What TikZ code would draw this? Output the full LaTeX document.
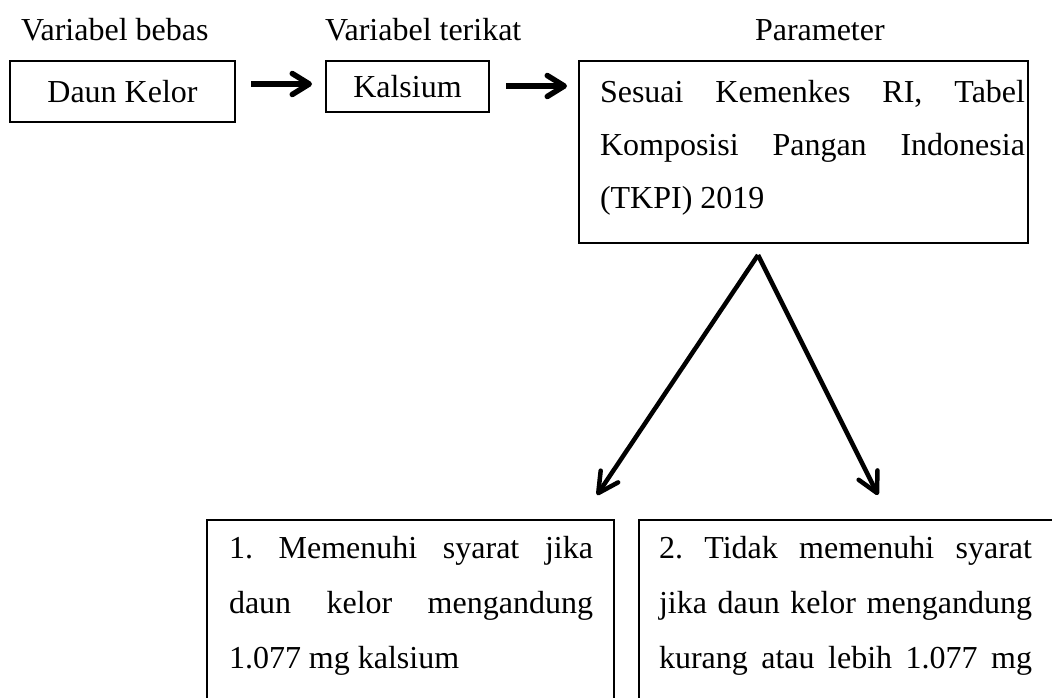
\documentclass[tikz,border=0pt]{standalone}
\usepackage{fontspec}
\setmainfont{Liberation Serif}
\usetikzlibrary{arrows.meta}
\newcommand\jline[2]{\makebox[#1][s]{#2}}
\frenchspacing
\begin{document}
\begin{tikzpicture}[x=1pt,y=-1pt,
  every node/.style={inner sep=0pt, outer sep=0pt, font=\fontsize{32}{53}\selectfont\frenchspacing},
  box/.style={draw, line width=1.1pt, rectangle},
  harrow/.style={line width=5.5pt, -{Straight Barb[length=17pt,width=21pt,round]}},
  varrow/.style={line width=4.5pt, -{Straight Barb[length=20pt,width=21pt,round]}}]
\useasboundingbox (0,0) rectangle (1052,697);
\clip (0,0) rectangle (1052,697);

% header labels
\node[anchor=base west] (lbebas) at (21,40) {Variabel bebas};
\node[anchor=base west] (lterikat) at (325,40) {Variabel terikat};
\node[anchor=base west] (lparam) at (755,40) {Parameter};

% top boxes
\node[box, minimum width=225pt, minimum height=61pt] (daun) at (122.5,91.5) {Daun Kelor};
\node[box, minimum width=163pt, minimum height=51pt] (kal) at (407.5,86.5) {Kalsium};
\node[box, anchor=north west] (param) at (579,61) {\parbox[c][182pt][t]{449pt}{%
  \lineskiplimit=-100pt \baselineskip=53pt
  \rule{0pt}{41pt}\hspace*{21pt}\jline{425pt}{Sesuai Kemenkes RI, Tabel}\par
  \hspace*{21pt}\jline{425pt}{Komposisi Pangan Indonesia}\par
  \hspace*{21pt}(TKPI) 2019}};

% bottom boxes
\node[box, anchor=north west] (yes) at (207,520) {\parbox[c][250pt][t]{407pt}{%
  \lineskiplimit=-100pt \baselineskip=55pt
  \rule{0pt}{38pt}\hspace*{22pt}\jline{364pt}{1. Memenuhi syarat jika}\par
  \hspace*{22pt}\jline{364pt}{daun kelor mengandung}\par
  \hspace*{22pt}1.077 mg kalsium}};
\node[box, anchor=north west] (no) at (639,520) {\parbox[c][250pt][t]{416pt}{%
  \lineskiplimit=-100pt \baselineskip=55pt
  \rule{0pt}{38pt}\hspace*{20pt}\jline{373pt}{2. Tidak memenuhi syarat}\par
  \hspace*{20pt}\jline{373pt}{jika daun kelor mengandung}\par
  \hspace*{20pt}\jline{373pt}{kurang atau lebih 1.077 mg}}};

% horizontal arrows
\draw[harrow, shorten <=16pt, shorten >=14pt] (daun.east |- 0,84) -- (kal.west |- 0,84);
\draw[harrow, shorten <=17pt, shorten >=12pt] (kal.east |- 0,86) -- (param.west |- 0,86);

% branching arrows
\coordinate (apex) at (758,255);
\coordinate (tipyes) at (597,495);
\coordinate (tipno) at (878,495);
\draw[varrow] (apex) -- (tipyes);
\draw[varrow] (apex) -- (tipno);
\end{tikzpicture}
\end{document}
